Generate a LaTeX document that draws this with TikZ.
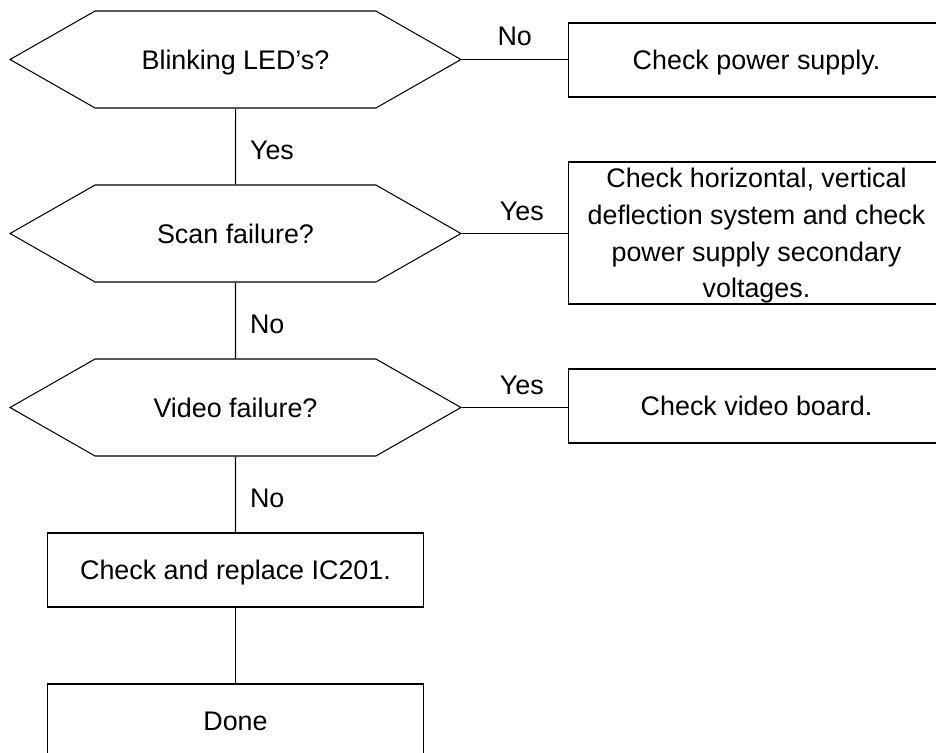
\documentclass[tikz,border=0pt]{standalone}
\usepackage{fontspec}
\setmainfont{Liberation Sans}
\usetikzlibrary{shapes.symbols}
\begin{document}
\begin{tikzpicture}[x=0.02cm, y=-0.02cm, line width=0.6pt,
  font=\fontsize{15.3pt}{20.9pt}\selectfont,
  decision/.style={draw, signal, signal to=west and east, signal pointer angle=59.4,
    minimum width=9.02cm, minimum height=1.94cm, inner sep=0pt, text depth=0pt},
  action/.style={draw, rectangle, minimum width=7.54cm, minimum height=1.48cm,
    align=center, inner sep=0pt, text depth=0pt},
  answer/.style={inner sep=0pt}]
\useasboundingbox (0,0) rectangle (936,752);
\clip (0,0) rectangle (936,752);

\node[decision] (led) at (235.5,59.5) {Blinking LED’s?};
\node[decision] (scan) at (235.5,233.5) {Scan failure?};
\node[decision] (video) at (235.5,407.5) {Video failure?};

\node[action] (power) at (756.5,60) {Check power supply.};
\node[action, minimum height=2.84cm] (deflect) at (756.5,233) {Check horizontal, vertical\\deflection system and check\\power supply secondary\\voltages.};
\node[action] (board) at (756.5,406) {Check video board.};

\node[action] (ic) at (235.5,570) {Check and replace IC201.};
\node[action] (done) at (235.5,721) {Done};

\draw (led.east) -- node[answer, above=0.26cm] {No} (led.east -| power.west);
\draw (scan.east) -- node[answer, above=0.24cm, xshift=0.14cm] {Yes} (scan.east -| deflect.west);
\draw (video.east) -- node[answer, above=0.24cm, xshift=0.14cm] {Yes} (video.east -| board.west);

\draw (led) -- node[answer, right=0.28cm, yshift=-0.08cm] {Yes} (scan);
\draw (scan) -- node[answer, right=0.28cm, yshift=-0.08cm] {No} (video);
\draw (video) -- node[answer, right=0.28cm, yshift=-0.08cm] {No} (ic);
\draw (ic) -- (done);
\end{tikzpicture}
\end{document}
